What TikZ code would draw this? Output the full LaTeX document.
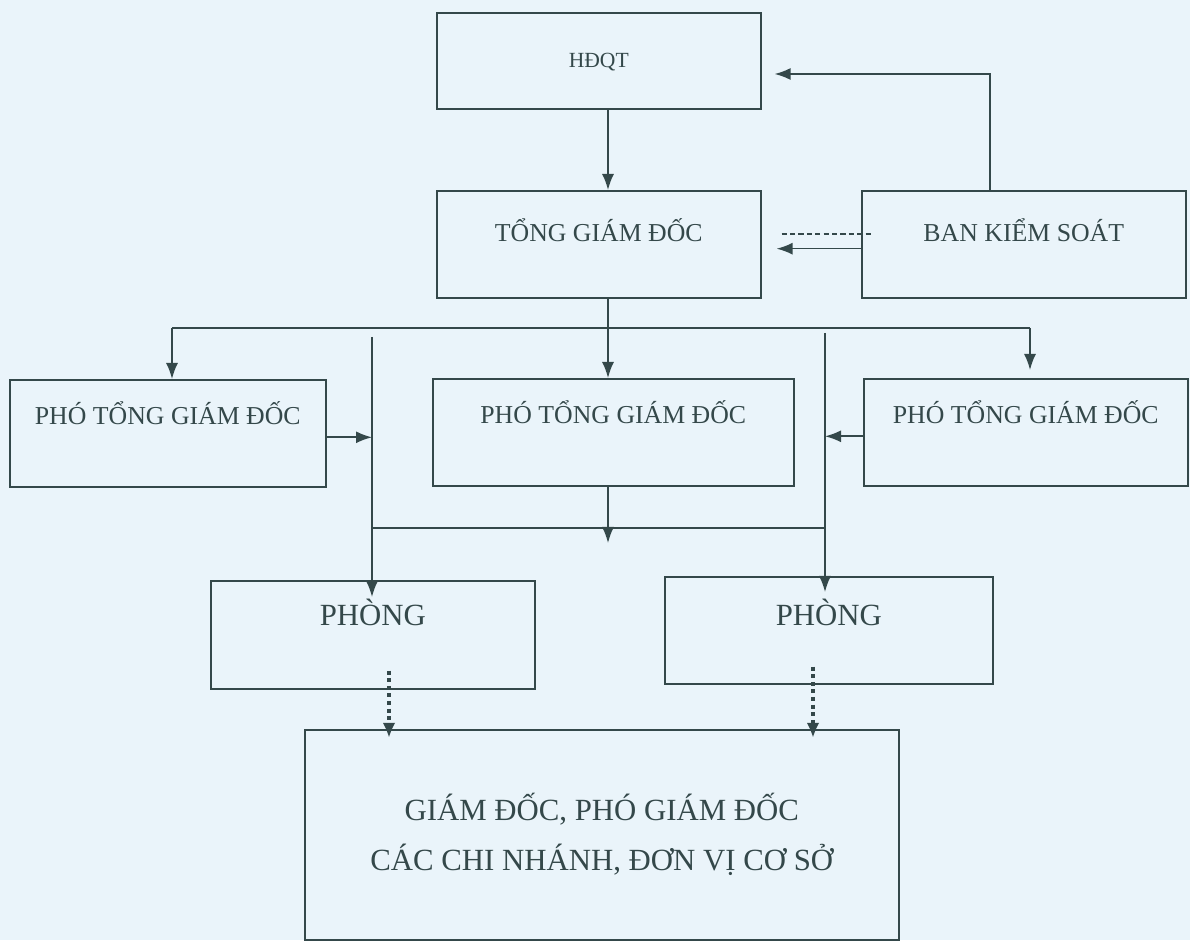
\documentclass[tikz,border=0pt]{standalone}
\usepackage{fontspec}
\setmainfont{Liberation Serif}
\usetikzlibrary{arrows.meta}
\definecolor{paper}{RGB}{234,244,250}
\definecolor{ink}{RGB}{52,72,74}

\begin{document}
\begin{tikzpicture}[x=0.5pt,y=-0.5pt,
  box/.style={draw=ink,line width=0.8pt,fill=paper,text=ink,inner xsep=0pt,inner ysep=0pt,anchor=north west},
  line/.style={draw=ink,line width=0.8pt},
  arr/.style={line,->,>={Latex[length=8pt,width=6pt]}},
  dashln/.style={line,line width=1pt,dash pattern=on 2.6pt off 1.6pt},
  dotarr/.style={draw=ink,line width=1.8pt,dash pattern=on 2pt off 1.8pt,->,>={Latex[length=7pt,width=6pt,line width=0pt]}}]
  \fill[paper] (0,0) rectangle (1190,940);
  \node[box,minimum width=162pt,text height=27.6pt,text depth=20.4pt,font=\fontsize{10.8}{13}\selectfont] (hdqt) at (436,12) {HĐQT};
  \node[box,minimum width=162pt,text height=25.3pt,text depth=28.2pt,font=\fontsize{12.9}{15}\selectfont] (tgd) at (436,190) {TỔNG GIÁM ĐỐC};
  \node[box,minimum width=162pt,text height=25.3pt,text depth=28.2pt,font=\fontsize{12.9}{15}\selectfont] (bks) at (861,190) {BAN KIỂM SOÁT};
  \node[box,minimum width=158pt,text height=22.3pt,text depth=31.2pt,font=\fontsize{12.9}{15}\selectfont] (ptgd1) at (9,379) {PHÓ TỔNG GIÁM ĐỐC};
  \node[box,minimum width=180.5pt,text height=22.3pt,text depth=31.2pt,font=\fontsize{12.9}{15}\selectfont] (ptgd2) at (432,378) {PHÓ TỔNG GIÁM ĐỐC};
  \node[box,minimum width=162pt,text height=22.3pt,text depth=31.2pt,font=\fontsize{12.9}{15}\selectfont] (ptgd3) at (863,378) {PHÓ TỔNG GIÁM ĐỐC};
  \node[box,minimum width=162pt,text height=22.6pt,text depth=31.4pt,font=\fontsize{15.4}{18}\selectfont] (phong1) at (210,580) {PHÒNG};
  \node[box,minimum width=164pt,text height=24.6pt,text depth=28.9pt,font=\fontsize{15.4}{18}\selectfont] (phong2) at (664,576) {PHÒNG};
  \node[box,minimum width=297pt,minimum height=105pt,align=center,font=\fontsize{15.4}{25}\selectfont] (cn) at (304,729) {GIÁM ĐỐC, PHÓ GIÁM ĐỐC\\CÁC CHI NHÁNH, ĐƠN VỊ CƠ SỞ};
  \coordinate (spine) at (608,328);
  \coordinate (busl) at (172,328);
  \coordinate (busr) at (1030,328);
  \coordinate (bkup) at (990,74);
  \coordinate (vl) at (372,337);
  \coordinate (vr) at (825,333);
  \coordinate (lowl) at (372,528);
  \coordinate (lowr) at (825,528);
  \coordinate (midtip) at (608,543);
  \coordinate (dl) at (389,700);
  \coordinate (dr) at (813,700);
  \draw[arr] (hdqt.south -| spine) -- (tgd.north -| spine);
  \draw[arr] (bks.north -| bkup) |- ([xshift=6.5pt]hdqt.east |- bkup);
  \draw[dashln] ([xshift=10pt,yshift=5.2pt]tgd.east) -- ([xshift=6pt,yshift=5.2pt]bks.west);
  \draw[arr] ([yshift=-2.2pt]bks.west) -- ([xshift=7.5pt,yshift=-2.2pt]tgd.east);
  \draw[line] (tgd.south -| spine) -- (spine);
  \draw[line] (busl) -- (busr);
  \draw[arr] (busl) -- (ptgd1.north -| busl);
  \draw[arr] (spine) -- (ptgd2.north -| spine);
  \draw[arr] (busr) -- ([yshift=4pt]ptgd3.north -| busr);
  \draw[arr] (vl) -- ([yshift=-8.5pt]phong1.north -| vl);
  \draw[arr] (vr) -- ([yshift=-8pt]phong2.north -| vr);
  \draw[arr] ([yshift=-2pt]ptgd1.east) -- ([yshift=-2pt]ptgd1.east -| vl);
  \draw[arr] ([yshift=-2pt]ptgd3.west) -- ([yshift=-2pt]ptgd3.west -| vr);
  \draw[line] (lowl) -- (lowr);
  \draw[arr] (ptgd2.south -| midtip) -- (midtip);
  \draw[dotarr] ([yshift=9.5pt]phong1.south -| dl) -- ([yshift=-4pt]cn.north -| dl);
  \draw[dotarr] ([yshift=9pt]phong2.south -| dr) -- ([yshift=-4pt]cn.north -| dr);
\end{tikzpicture}
\end{document}
